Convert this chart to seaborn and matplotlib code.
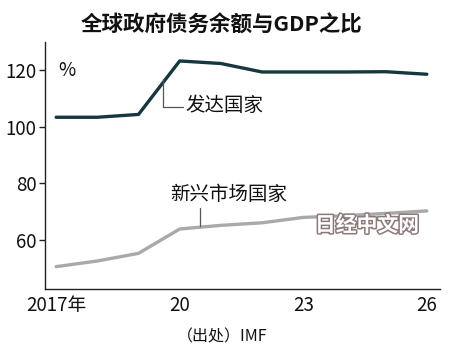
import matplotlib
matplotlib.use("Agg")
import matplotlib.pyplot as plt
import matplotlib.patheffects as pe
import seaborn as sns
import pandas as pd

years = [2017, 2018, 2019, 2020, 2021, 2022, 2023, 2024, 2025, 2026]
developed = [103.4, 103.4, 104.4, 123.3, 122.4, 119.4, 119.4, 119.4, 119.5, 118.6]
emerging = [50.6, 52.6, 55.3, 63.9, 65.2, 66.1, 68.0, 68.6, 69.4, 70.3]
xtick_vals = [2017, 2020, 2023, 2026]
xtick_labels = ["2017年", "20", "23", "26"]
ytick_vals = [60, 80, 100, 120]

sns.set_theme(style="white")
plt.rcParams['font.family'] = ['Noto Sans CJK SC', 'DejaVu Sans']

df = pd.DataFrame({"year": years * 2,
                   "value": developed + emerging,
                   "group": ["发达国家"] * len(years) + ["新兴市场国家"] * len(years)})

fig = plt.figure(figsize=(4.5, 3.56), dpi=100)
ax = fig.add_axes([45 / 450, 1 - 289 / 356, (440 - 45) / 450, (289 - 42) / 356])
sns.lineplot(data=df, x="year", y="value", hue="group",
             palette={"发达国家": "#16373d", "新兴市场国家": "#a9a9a9"},
             linewidth=2.4, legend=False, ax=ax)

ax.set_xlim(2016.73, 2026.32)
ax.set_ylim(42.7, 130)
ax.set_xticks(years)
ax.set_xticklabels([xtick_labels[xtick_vals.index(y)] if y in xtick_vals else "" for y in years])
ax.set_yticks(ytick_vals)
ax.set_xlabel("")
ax.set_ylabel("")
for s in ["top", "right"]:
    ax.spines[s].set_visible(False)
for s in ["left", "bottom"]:
    ax.spines[s].set_color("#222222")
    ax.spines[s].set_linewidth(1.0)
narrow = ['Liberation Sans Narrow', 'Noto Sans CJK SC']
ax.tick_params(axis="x", direction="in", length=4, width=1, color="#222222", pad=4)
ax.tick_params(axis="y", direction="out", length=4, width=1, color="#222222", pad=2, left=True)
for lab in ax.get_xticklabels() + ax.get_yticklabels():
    lab.set_fontfamily(narrow)
    lab.set_fontsize(13.5)
    lab.set_color("#111111")

ax.text(2017.05, 120, "%", fontsize=13.5, family=narrow, va="center", ha="left", color="#111111")

# leader lines and labels
ax.plot([2019.6, 2019.6, 2020.08], [116.8, 107.0, 107.0], color="#555555", lw=0.9)
ax.text(2020.13, 107.4, "发达国家", fontsize=14, va="center", ha="left", color="#111111")
ax.plot([2020.5, 2020.5], [64.8, 71.3], color="#555555", lw=0.9)
ax.text(2019.77, 76.0, "新兴市场国家", fontsize=14, va="center", ha="left", color="#111111")

# watermark
ax.text(2024.55, 65.3, "日经中文网", fontsize=15, fontweight="bold", va="center", ha="center",
        color="white", path_effects=[pe.withStroke(linewidth=2.2, foreground="#8a7a7a")])

fig.text(222 / 450, 1 - 25 / 356, "全球政府债务余额与GDP之比", fontsize=15.5, fontweight="bold",
         ha="center", va="center", color="#111111")
fig.text(222 / 450, 1 - 337 / 356, "（出处）IMF", fontsize=11.5, ha="center", va="center", color="#111111")

fig.savefig("out.png", dpi=100)
